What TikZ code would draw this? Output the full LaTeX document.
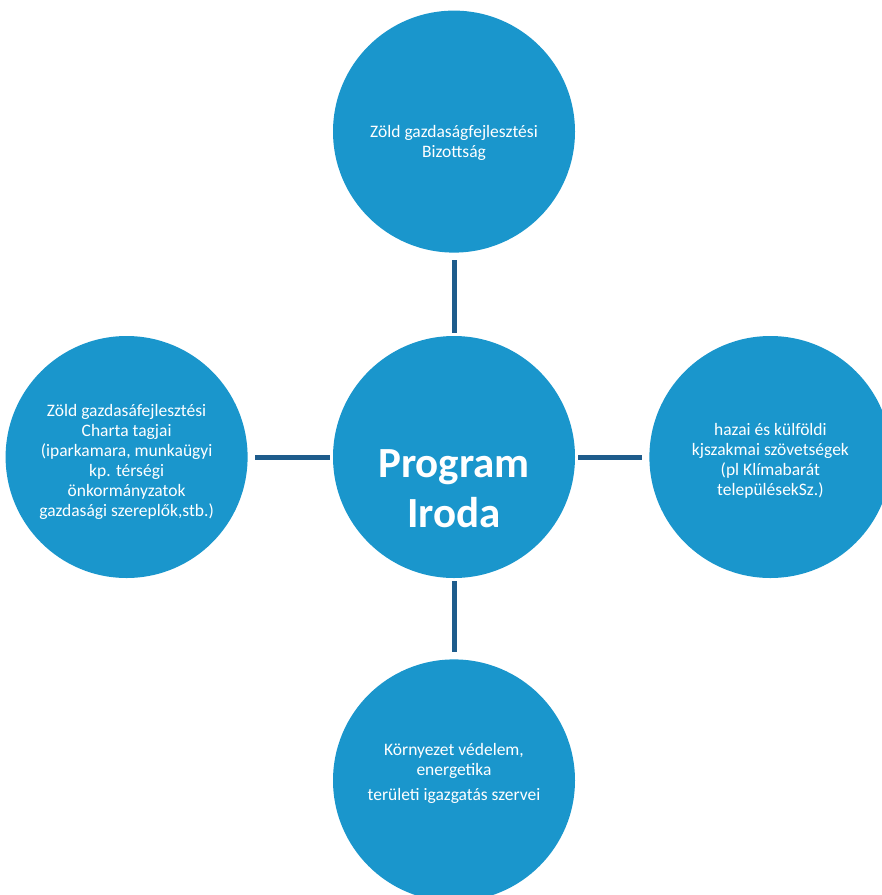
\documentclass[tikz,border=0pt]{standalone}
\usepackage{fontspec}
\setmainfont{Carlito}
\usepackage{tikz}
\usepackage{xcolor}
\usetikzlibrary{positioning}

\definecolor{korkek}{RGB}{26,150,204}
\definecolor{vonalkek}{RGB}{30,92,140}

\begin{document}
\begin{tikzpicture}[
            x=1pt, y=-1pt,
            % Távolság a körök között
            node distance=82pt,
            % Körök, feliratok és vonalak stílusai
            kor/.style={circle, fill=korkek, minimum size=242pt, inner sep=0pt},
            szoveg/.style={text=white, align=center, inner sep=0pt, font=\fontsize{17.5}{20}\selectfont},
            foszoveg/.style={szoveg, font=\fontsize{43}{50}\selectfont\bfseries},
            vonal/.style={draw=vonalkek, line width=5pt, shorten <=3pt, shorten >=7pt}
            ]

            \useasboundingbox (0,0) rectangle (882,895);
            \clip (0,0) rectangle (882,895);

            % Körök
            \node (iroda) [kor, label={[foszoveg, yshift=-32pt]center:{Program\\Iroda}}] at (454,457) {};
            \node (bizottsag) [kor, above=83pt of iroda,
                label={[szoveg, yshift=-11pt]center:{Zöld gazdaságfejlesztési\\Bizottság}}] {};
            \node (charta) [kor, left=85pt of iroda,
                label={[szoveg, yshift=-5pt]center:{Zöld gazdasáfejlesztési\\Charta tagjai\\(iparkamara, munkaügyi\\kp. térségi\\önkormányzatok\\gazdasági szereplők,stb.)}}] {};
            \node (szovetseg) [kor, right=74pt of iroda,
                label={[szoveg, yshift=-4pt]center:{hazai és külföldi\\kjszakmai szövetségek\\(pl Klímabarát\\településekSz.)}}] {};
            \node (kornyezet) [kor, below=81pt of iroda,
                label={[szoveg, yshift=7pt]center:{Környezet védelem,\\energetika\\[5pt]területi igazgatás szervei}}] {};

            % Összekötő vonalak
            \draw [vonal] (iroda) -- (bizottsag);
            \draw [vonal] (iroda) -- (charta);
            \draw [vonal] (iroda) -- (szovetseg);
            \draw [vonal] (iroda) -- (kornyezet);

\end{tikzpicture}
\end{document}
